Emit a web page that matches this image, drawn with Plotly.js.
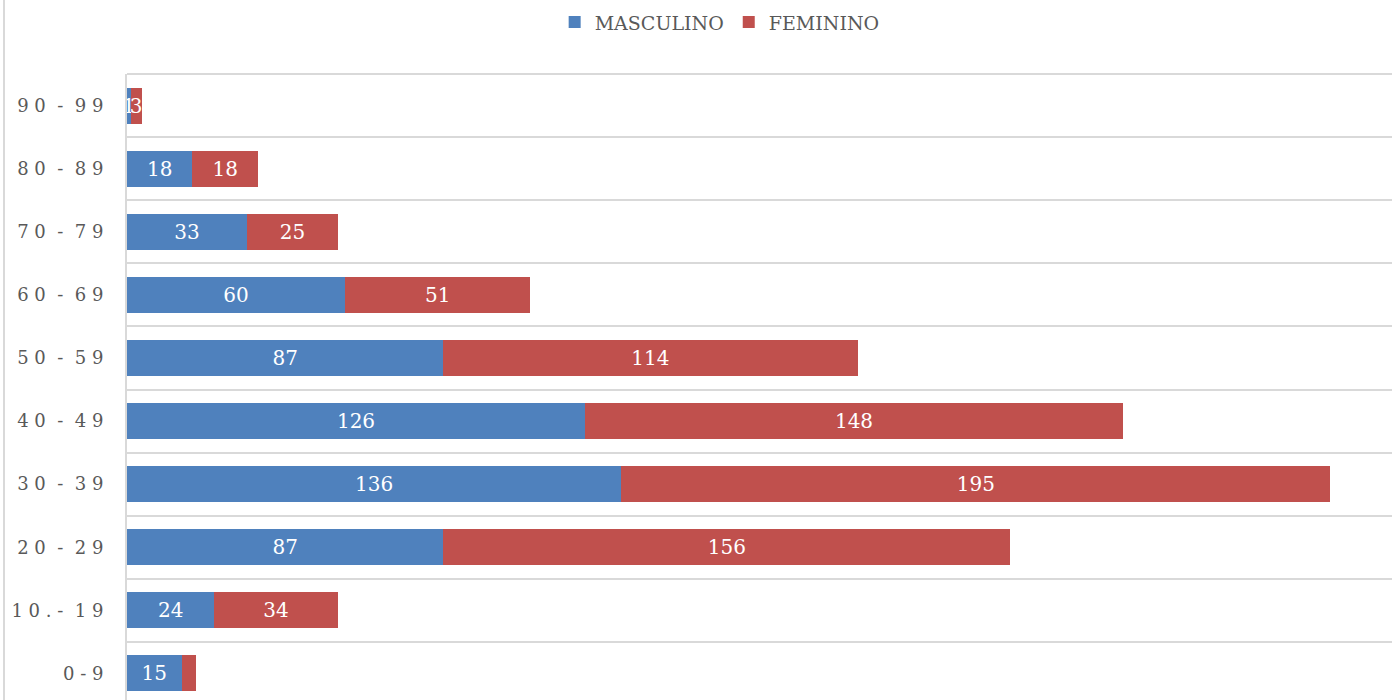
<!DOCTYPE html>
<html>
<head>
<meta charset="utf-8">
<script src="https://cdn.plot.ly/plotly-3.0.1.min.js"></script>
<style>
html,body{margin:0;padding:0;overflow:hidden;background:#fff;}
#chart{width:1392px;height:760px;}
</style>
</head>
<body>
<div id="chart"></div>
<script>
const categories = ["0 - 9", "1 0 . -  1 9", "2 0  -  2 9", "3 0  -  3 9", "4 0  -  4 9", "5 0  -  5 9", "6 0  -  6 9", "7 0  -  7 9", "8 0  -  8 9", "9 0  -  9 9"];
const masculino = [15, 24, 87, 136, 126, 87, 60, 33, 18, 1];
const feminino = [4, 34, 156, 195, 148, 114, 51, 25, 18, 3];
const femLabels = ["", "34", "156", "195", "148", "114", "51", "25", "18", "3"];

const font = "'DejaVu Serif', 'Liberation Serif', serif";

const traces = [
  {
    type: "bar", orientation: "h", name: "MASCULINO",
    y: categories, x: masculino,
    text: masculino.map(String),
    textposition: "inside", insidetextanchor: "middle", textangle: 0,
    textfont: {color: "#ffffff", size: 20, family: font},
    marker: {color: "#4F81BD"},
    hoverinfo: "x+y"
  },
  {
    type: "bar", orientation: "h", name: "FEMININO",
    y: categories, x: feminino,
    text: femLabels,
    textposition: "inside", insidetextanchor: "middle", textangle: 0,
    textfont: {color: "#ffffff", size: 20, family: font},
    marker: {color: "#C0504D"},
    hoverinfo: "x+y"
  }
];

const layout = {
  width: 1392, height: 760,
  margin: {l: 127, r: 0, t: 74, b: 55, autoexpand: false},
  barmode: "stack",
  bargap: 0.43,
  paper_bgcolor: "#ffffff",
  plot_bgcolor: "#ffffff",
  uniformtext: {mode: "show", minsize: 20},
  font: {family: font, color: "#595959", size: 18},
  showlegend: true,
  legend: {
    orientation: "h", x: 0.517, xanchor: "center", y: 1.082, yanchor: "middle",
    xref: "container", yref: "paper",
    font: {size: 19, color: "#595959", family: font},
    traceorder: "normal"
  },
  xaxis: {
    range: [0, 348], showticklabels: false, showgrid: false,
    zeroline: false, showline: false, fixedrange: true, automargin: false
  },
  yaxis: {
    type: "category", range: [-0.5, 9.5], automargin: false,
    tickson: "boundaries", ticks: "", ticklen: 0,
    showgrid: true, gridcolor: "#d9d9d9", gridwidth: 2,
    showline: true, linecolor: "#d9d9d9", linewidth: 2,
    tickfont: {size: 18, color: "#595959", family: font},
    ticklabelstandoff: 18,
    zeroline: false
  },
  shapes: [
    {type: "line", xref: "paper", yref: "paper", x0: (4 - 127) / 1265, x1: (4 - 127) / 1265,
     y0: -0.2, y1: 1.2, line: {color: "#d9d9d9", width: 2}},
    {type: "line", xref: "paper", yref: "paper", x0: 0, x1: 1, y0: 1, y1: 1,
     line: {color: "#d9d9d9", width: 2}}
  ]
};

Plotly.newPlot("chart", traces, layout, {displayModeBar: false, staticPlot: true});
</script>
</body>
</html>
